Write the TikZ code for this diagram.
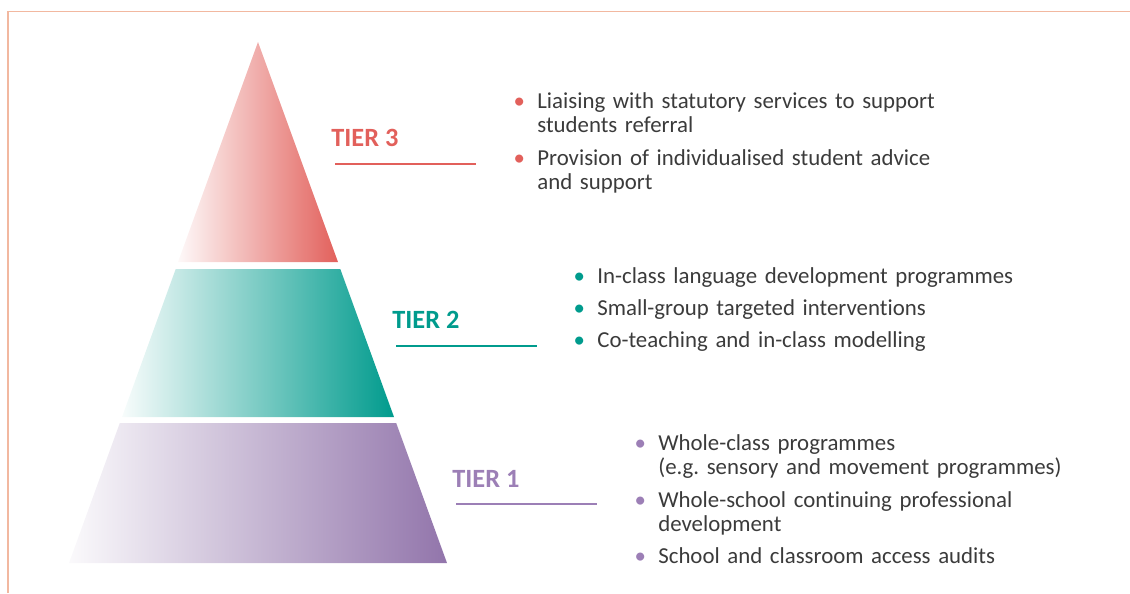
\documentclass[tikz,border=0pt]{standalone}
\usepackage{fontspec}
\setmainfont{Carlito}[Ligatures=NoCommon]
\usepackage{tikz}
\usetikzlibrary{positioning}

\definecolor{tierred}{HTML}{E2605B}
\definecolor{tierteal}{HTML}{009B8D}
\definecolor{tierpurple}{HTML}{9275AB}
\definecolor{tierlilac}{HTML}{9C7FB6}
\definecolor{frameline}{HTML}{F2B8A0}
\definecolor{bodytext}{HTML}{3B3B3B}

\tikzset{
    tiername/.style={anchor=base west, inner sep=0pt, font=\fontsize{15}{15}\selectfont\bfseries},
    tierrule/.style={line width=1.2pt},
    point/.style={anchor=base west, inner sep=0pt, text width=300pt, align=left,
        text=bodytext, font=\fontsize{13}{13.7}\selectfont\frenchspacing},
}
\newcommand{\pointmark}[1]{\leavevmode\llap{\textcolor{#1}{\textbullet}\hspace{7pt}}}

\begin{document}
\begin{tikzpicture}[x=0.02cm, y=-0.02cm]
    \useasboundingbox (0,0) rectangle (1130,593);
    \draw[frameline, line width=1.1pt] (8,593) -- (8,11.5) -- (1130,11.5);

    % pyramid
    \shade[left color=gray!5!tierred!4, right color=tierred] (258,42) -- (338,262) -- (178,262) -- cycle;
    \shade[left color=gray!6!tierteal!3, right color=tierteal] (175.7,269) -- (340.3,269) -- (394,417) -- (122,417) -- cycle;
    \shade[left color=gray!6!tierpurple!4, right color=tierpurple] (119.8,423) -- (396.2,423) -- (447,563) -- (69,563) -- cycle;

    % tier 3
    \node[tiername, text=tierred] (t3name) at (331,146) {TIER 3};
    \draw[tierrule, tierred] (335,164) -- (476,164);
    \node[point] (t3a) at (537,108) {\pointmark{tierred}Liaising with statutory services to support\\students referral};
    \node[point] (t3b) at (537,165) {\pointmark{tierred}Provision of individualised student advice\\and support};

    % tier 2
    \node[tiername, text=tierteal] (t2name) at (392,328) {TIER 2};
    \draw[tierrule, tierteal] (396,346) -- (537,346);
    \node[point] (t2a) at (597,283) {\pointmark{tierteal}In-class language development programmes};
    \node[point] (t2b) at (597,315) {\pointmark{tierteal}Small-group targeted interventions};
    \node[point] (t2c) at (597,347) {\pointmark{tierteal}Co-teaching and in-class modelling};

    % tier 1
    \node[tiername, text=tierlilac] (t1name) at (452,487) {TIER 1};
    \draw[tierrule, tierlilac] (456,504) -- (597,504);
    \node[point] (t1a) at (658,450) {\pointmark{tierlilac}Whole-class programmes\\(e.g. sensory and movement programmes)};
    \node[point] (t1b) at (658,507) {\pointmark{tierlilac}Whole-school continuing professional\\development};
    \node[point] (t1c) at (658,563) {\pointmark{tierlilac}School and classroom access audits};
\end{tikzpicture}
\end{document}
